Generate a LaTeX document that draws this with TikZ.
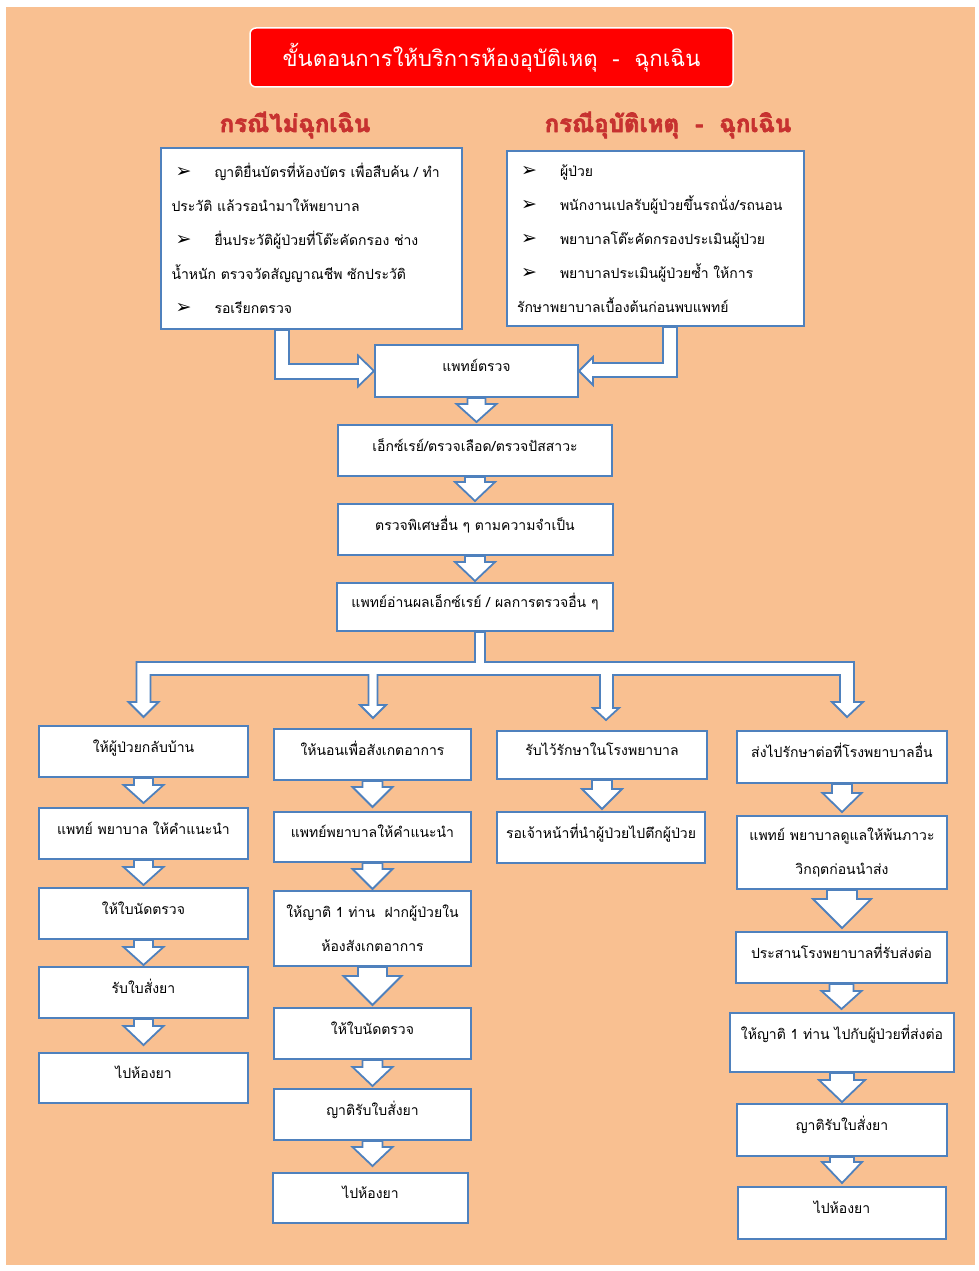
\documentclass[tikz,border=0pt]{standalone}
\usepackage{fontspec}
\newfontfamily\thai[Script=Thai]{Loma}
\newfontfamily\dv{DejaVu Sans}
\usetikzlibrary{calc}
\definecolor{peach}{HTML}{F9C091}
\definecolor{bblue}{HTML}{4F81BD}
\definecolor{hred}{HTML}{C83230}
\pgfdeclarelayer{bg}\pgfsetlayers{bg,main}
\tikzset{
  box/.style={draw=bblue, line width=2pt, fill=white, inner sep=0pt, align=center,
    font=\thai\fontsize{14}{34}\selectfont, text height=10pt, text depth=9pt},
  mbox/.style={draw=bblue, line width=2pt, fill=white, inner sep=0pt,
    font=\thai\fontsize{14}{34}\selectfont},
  barrow/.style={draw=bblue, line width=1.8pt, fill=white, line join=miter},
  titlebox/.style={draw=white, line width=1.5pt, fill=red, rounded corners=6pt,
    font=\thai\fontsize{22}{26}\selectfont, text=white},
  hdr/.style={inner sep=0pt, font=\thai\bfseries\fontsize{24}{28}\selectfont},
}
% heavy red heading text (fill + stroke rendering mode)
\newcommand\outl[1]{\textcolor{hred}{\special{pdf:literal direct 2 Tr 0.78 0.196 0.188 RG 0.7 w 1 j}#1\special{pdf:literal direct 0 Tr}}}
\newcommand\bul{\hspace*{4pt}\makebox[39pt][l]{\dv\fontsize{19}{19}\selectfont ➢}}
% from, to, shaft half, head half, head length, gap
\newcommand\dnarrow[6]{%
  \begin{pgfonlayer}{bg}
  \draw[barrow] let \p1=(#1.south), \p2=(#2.north) in
    (\x1-#3pt,\y1) -- (\x1-#3pt,\y2+#6pt+#5pt) -- (\x1-#4pt,\y2+#6pt+#5pt)
    -- (\x1,\y2+#6pt) -- (\x1+#4pt,\y2+#6pt+#5pt) -- (\x1+#3pt,\y2+#6pt+#5pt)
    -- (\x1+#3pt,\y1) -- cycle;
  \end{pgfonlayer}}
\begin{document}
\begin{tikzpicture}[x=1pt,y=-1pt]
\useasboundingbox (0,0) rectangle (978,1271);
\begin{pgfonlayer}{bg}
\fill[white] (0,0) rectangle (978,1271);
\fill[peach] (6,7) rectangle (975,1265);
\end{pgfonlayer}

% title and headings
\node[titlebox, minimum width=483, minimum height=59] (title) at (491.5,57.5)
  {ขั้นตอนการให้บริการห้องอุบัติเหตุ\ \ -\ \ ฉุกเฉิน};
\node[hdr] (h1) at (295,125) {\outl{กรณีไม่ฉุกเฉิน}};
\node[hdr] (h2) at (668,125) {\outl{กรณีอุบัติเหตุ\ \ -\ \ ฉุกเฉิน}};

% top boxes
\node[mbox, minimum width=301, minimum height=181, text width=280, align=left] (tl) at (311.5,238.5)
  {\bul ญาติยื่นบัตรที่ห้องบัตร เพื่อสืบค้น / ทำ\\
   ประวัติ แล้วรอนำมาให้พยาบาล\\
   \bul ยื่นประวัติผู้ป่วยที่โต๊ะคัดกรอง ช่าง\\
   น้ำหนัก ตรวจวัดสัญญาณชีพ ซักประวัติ\\
   \bul รอเรียกตรวจ};
\node[mbox, minimum width=297, minimum height=175, text width=277, align=left] (tr) at (655.5,238.5)
  {\bul ผู้ป่วย\\
   \bul พนักงานเปลรับผู้ป่วยขึ้นรถนั่ง/รถนอน\\
   \bul พยาบาลโต๊ะคัดกรองประเมินผู้ป่วย\\
   \bul พยาบาลประเมินผู้ป่วยซ้ำ ให้การ\\
   รักษาพยาบาลเบื้องต้นก่อนพบแพทย์};

% central chain
\node[box, minimum width=203, minimum height=52] (doc) at (476.5,371) {แพทย์ตรวจ};
\node[box, minimum width=274, minimum height=51] (xr) at (475,450.5) {เอ็กซ์เรย์/ตรวจเลือด/ตรวจปัสสาวะ};
\node[box, minimum width=275, minimum height=51] (sp) at (475,529.5) {ตรวจพิเศษอื่น ๆ ตามความจำเป็น};
\node[box, minimum width=276, minimum height=48] (rd) at (475,607) {แพทย์อ่านผลเอ็กซ์เรย์ / ผลการตรวจอื่น ๆ};

% column 1
\node[box, minimum width=209, minimum height=51] (c1a) at (143.5,751.5) {ให้ผู้ป่วยกลับบ้าน};
\node[box, minimum width=209, minimum height=51] (c1b) at (143.5,833.5) {แพทย์ พยาบาล ให้คำแนะนำ};
\node[box, minimum width=209, minimum height=51] (c1c) at (143.5,913.5) {ให้ใบนัดตรวจ};
\node[box, minimum width=209, minimum height=51] (c1d) at (143.5,992.5) {รับใบสั่งยา};
\node[box, minimum width=209, minimum height=50] (c1e) at (143.5,1078) {ไปห้องยา};

% column 2
\node[box, minimum width=197, minimum height=51] (c2a) at (372.5,754.5) {ให้นอนเพื่อสังเกตอาการ};
\node[box, minimum width=197, minimum height=50] (c2b) at (372.5,837) {แพทย์พยาบาลให้คำแนะนำ};
\node[mbox, minimum width=197, minimum height=75, align=center] (c2c) at (372.5,928.5)
  {ให้ญาติ 1 ท่าน\ \ ฝากผู้ป่วยใน\\ ห้องสังเกตอาการ};
\node[box, minimum width=197, minimum height=51] (c2d) at (372.5,1033.5) {ให้ใบนัดตรวจ};
\node[box, minimum width=197, minimum height=51] (c2e) at (372.5,1114.5) {ญาติรับใบสั่งยา};
\node[box, minimum width=195, minimum height=50] (c2f) at (370.5,1198) {ไปห้องยา};

% column 3
\node[box, minimum width=210, minimum height=48] (c3a) at (602,755) {รับไว้รักษาในโรงพยาบาล};
\node[box, minimum width=208, minimum height=51] (c3b) at (601,837.5) {รอเจ้าหน้าที่นำผู้ป่วยไปตึกผู้ป่วย};

% column 4
\node[box, minimum width=210, minimum height=52] (c4a) at (842,757) {ส่งไปรักษาต่อที่โรงพยาบาลอื่น};
\node[mbox, minimum width=210, minimum height=73, align=center] (c4b) at (842,852.5)
  {แพทย์ พยาบาลดูแลให้พ้นภาวะ\\ วิกฤตก่อนนำส่ง};
\node[box, minimum width=211, minimum height=51] (c4c) at (841.5,957.5) {ประสานโรงพยาบาลที่รับส่งต่อ};
\node[box, minimum width=224, minimum height=59, text height=8pt, text depth=15pt] (c4d) at (842,1042.5) {ให้ญาติ 1 ท่าน ไปกับผู้ป่วยที่ส่งต่อ};
\node[box, minimum width=210, minimum height=52] (c4e) at (842,1130) {ญาติรับใบสั่งยา};
\node[box, minimum width=208, minimum height=52] (c4f) at (842,1213) {ไปห้องยา};

% block arrows
\begin{pgfonlayer}{bg}
\draw[barrow] let \p1=(doc.west), \p2=(tl.south) in
  (\x1-99pt,\y2) -- (\x1-99pt,\y1-8pt) -- (\x1-16pt,\y1-8pt) -- (\x1-16pt,\y1-15.5pt)
  -- (\x1,\y1) -- (\x1-16pt,\y1+15.5pt) -- (\x1-16pt,\y1+7pt) -- (\x1-85pt,\y1+7pt)
  -- (\x1-85pt,\y2) -- cycle;
\draw[barrow] let \p1=(doc.east), \p2=(tr.south) in
  (\x1+98pt,\y2) -- (\x1+98pt,\y1-6pt) -- (\x1+14pt,\y1-6pt) -- (\x1+14pt,\y1-14pt)
  -- (\x1,\y1) -- (\x1+14pt,\y1+14pt) -- (\x1+14pt,\y1+8pt) -- (\x1+84pt,\y1+8pt)
  -- (\x1+84pt,\y2) -- cycle;
\draw[barrow] let \p0=(rd.south), \p1=(c1a.north), \p2=(c2a.north), \p3=(c3a.north), \p4=(c4a.north) in
  (\x0,\y0) -- (\x0,-662pt) -- (\x1-7pt,-662pt) -- (\x1-7pt,-702pt) -- (\x1-15pt,-702pt)
  -- (\x1,-717pt) -- (\x1+15pt,-702pt) -- (\x1+7pt,-702pt) -- (\x1+7pt,-675pt)
  -- (\x2-4pt,-675pt) -- (\x2-4pt,-705pt) -- (\x2-12.5pt,-705pt) -- (\x2+0.5pt,-718pt)
  -- (\x2+13.5pt,-705pt) -- (\x2+5pt,-705pt) -- (\x2+5pt,-675pt)
  -- (\x3-2pt,-675pt) -- (\x3-2pt,-708pt) -- (\x3-9pt,-708pt) -- (\x3+4pt,-720pt)
  -- (\x3+17pt,-708pt) -- (\x3+11pt,-708pt) -- (\x3+11pt,-675pt)
  -- (\x4-2pt,-675pt) -- (\x4-2pt,-702pt) -- (\x4-10pt,-702pt) -- (\x4+5pt,-717pt)
  -- (\x4+21pt,-702pt) -- (\x4+12pt,-702pt) -- (\x4+12pt,-662pt)
  -- (\x0+10pt,-662pt) -- (\x0+10pt,\y0) -- cycle;
\end{pgfonlayer}
\dnarrow{doc}{xr}{9}{20}{18}{2}
\dnarrow{xr}{sp}{10}{20}{19}{2}
\dnarrow{sp}{rd}{10}{20}{19}{1}

\dnarrow{c1a}{c1b}{9.5}{20}{18}{4}
\dnarrow{c1b}{c1c}{9.5}{20}{18}{2}
\dnarrow{c1c}{c1d}{9.5}{20}{18}{1}
\dnarrow{c1d}{c1e}{9.5}{20}{19}{7}

\dnarrow{c2a}{c2b}{10}{20}{20}{4}
\dnarrow{c2b}{c2c}{10}{20}{20}{1}
\dnarrow{c2c}{c2d}{14.5}{29}{29}{2}
\dnarrow{c2d}{c2e}{10}{20}{19}{2}
\dnarrow{c2e}{c2f}{10}{20}{19}{6}

\dnarrow{c3a}{c3b}{10}{20}{20}{2}

\dnarrow{c4a}{c4b}{10}{19.5}{19}{3}
\dnarrow{c4b}{c4c}{15}{29}{29}{3}
\dnarrow{c4c}{c4d}{12}{20}{18}{3}
\dnarrow{c4d}{c4e}{12}{23}{22}{1}
\dnarrow{c4e}{c4f}{12}{20}{21}{3}
\end{tikzpicture}
\end{document}
